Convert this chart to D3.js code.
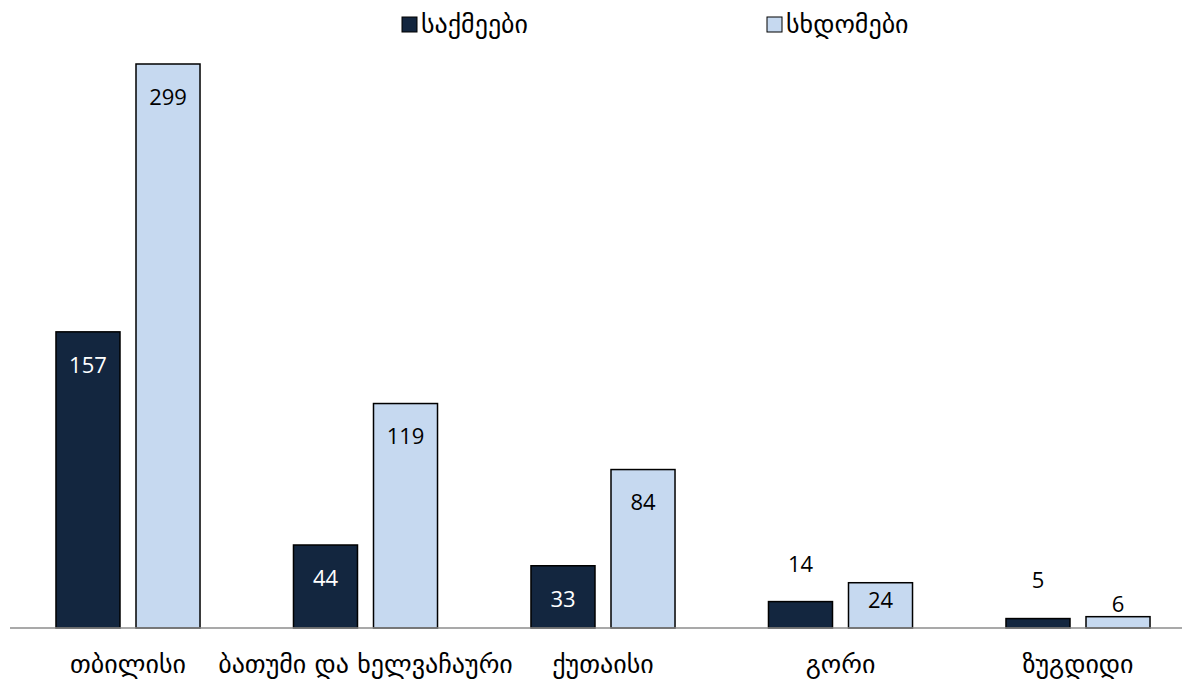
<!DOCTYPE html>
<html>
<head>
<meta charset="utf-8">
<script src="https://cdn.jsdelivr.net/npm/d3@7"></script>
<style>
  body { margin: 0; background: #fff; }
  text { font-family: "Open Sans", "DejaVu Sans", sans-serif; }
</style>
</head>
<body>
<div class="chart"></div>
<script>
// Data
var cities = ["თბილისი", "ბათუმი და ხელვაჩაური", "ქუთაისი", "გორი", "ზუგდიდი"];
var seriesNames = ["საქმეები", "სხდომები"];
var cases = [157, 44, 33, 14, 5];
var sessions = [299, 119, 84, 24, 6];
var colors = ["#13263f", "#c6d9f0"];
var labelColors = ["#fff", "#000"];

// Chart params
var svgWidth = 1192;
var svgHeight = 681;
var margin = { top: 64, right: 10, bottom: 53, left: 10 };
var width = svgWidth - margin.left - margin.right;
var height = svgHeight - margin.top - margin.bottom;

var svg = d3.select(".chart")
  .append("svg")
  .attr("width", svgWidth)
  .attr("height", svgHeight);

var chartGroup = svg.append("g")
  .attr("transform", `translate(${margin.left}, ${margin.top})`);

var rows = cities.map((c, i) => ({ city: c, values: [cases[i], sessions[i]] }));

// Scales (category step is a bit wider than the drawn baseline)
var x0 = d3.scaleBand()
  .domain(cities)
  .range([-0.75, 1186.75])
  .padding(0);

var x1 = d3.scaleBand()
  .domain([0, 1])
  .range([0, x0.bandwidth()])
  .paddingInner(0.2)
  .paddingOuter(0.584);

var y = d3.scaleLinear()
  .domain([0, 299])
  .range([height, 0]);

// Bars
var groups = chartGroup.selectAll(".city")
  .data(rows)
  .enter()
  .append("g")
  .attr("class", "city")
  .attr("transform", d => `translate(${x0(d.city)}, 0)`);

groups.selectAll("rect")
  .data(d => d.values.map((v, k) => ({ k: k, v: v })))
  .enter()
  .append("rect")
  .attr("x", d => x1(d.k))
  .attr("y", d => y(d.v))
  .attr("width", x1.bandwidth())
  .attr("height", d => height - y(d.v))
  .attr("fill", d => colors[d.k])
  .attr("stroke", "#000")
  .attr("stroke-width", 1.5);

// Value labels
groups.selectAll(".val")
  .data(d => d.values.map((v, k) => ({ k: k, v: v })))
  .enter()
  .append("text")
  .attr("class", "val")
  .attr("x", d => x1(d.k) + x1.bandwidth() / 2)
  .attr("y", function(d) {
    var top = y(d.v);
    var h = height - top;
    if (h >= 40) return top + Math.min(33, h - 28);
    return d.k === 0 ? top - 38 : top - 13;
  })
  .attr("dy", "0.36em")
  .attr("text-anchor", "middle")
  .style("font-family", "\"Open Sans\", sans-serif")
  .style("font-size", "22px")
  .attr("fill", function(d) {
    var h = height - y(d.v);
    return h >= 40 ? labelColors[d.k] : "#000";
  })
  .text(d => d.v);

// Baseline axis
var bottomAxis = d3.axisBottom(x0).tickSize(0);
var axisG = chartGroup.append("g")
  .attr("transform", `translate(0, ${height})`)
  .call(bottomAxis);
axisG.select(".domain").remove();
axisG.append("line")
  .attr("x1", 0)
  .attr("x2", width)
  .attr("stroke", "#8c8c8c")
  .attr("stroke-width", 1.5);
axisG.selectAll(".tick text")
  .attr("y", 45)
  .attr("dy", 0)
  .attr("fill", "#000")
  .style("font-family", "\"DejaVu Sans\", sans-serif")
  .style("font-size", "26px");

// Legend
var legendX = [402, 767];
var legend = svg.selectAll(".legend")
  .data(seriesNames)
  .enter()
  .append("g")
  .attr("class", "legend")
  .attr("transform", (d, i) => `translate(${legendX[i]}, 0)`);

legend.append("rect")
  .attr("x", 0)
  .attr("y", 17)
  .attr("width", 15)
  .attr("height", 15)
  .attr("fill", (d, i) => colors[i])
  .attr("stroke", "#000")
  .attr("stroke-width", 1);

legend.append("text")
  .attr("x", 19)
  .attr("y", 33)
  .style("font-family", "\"DejaVu Sans\", sans-serif")
  .style("font-size", "26px")
  .text(d => d);
</script>
</body>
</html>
